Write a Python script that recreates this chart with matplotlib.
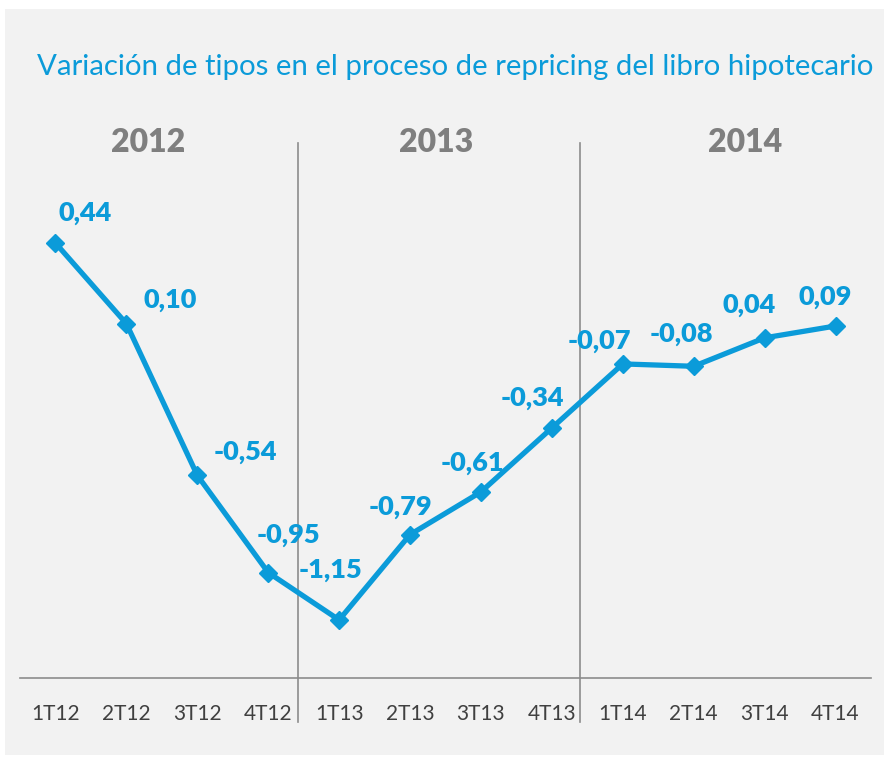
import matplotlib
matplotlib.use("Agg")
import matplotlib.pyplot as plt
from matplotlib.patches import Rectangle

# data
quarters = ["1T12", "2T12", "3T12", "4T12", "1T13", "2T13",
            "3T13", "4T13", "1T14", "2T14", "3T14", "4T14"]
variation = [0.44, 0.10, -0.54, -0.95, -1.15, -0.79,
             -0.61, -0.34, -0.07, -0.08, 0.04, 0.09]
years = ["2012", "2013", "2014"]

# label offsets in pixels (style only)
label_offsets = [(30, 30), (44, 24), (48, 23), (20, 38), (-9, 50), (-10, 28),
                 (-9, 29), (-19, 30), (-23, 23), (-12, 32), (-15, 33), (-10, 29)]
year_pos = [1.3, 5.37, 9.72]
separators = [3.42, 7.40]

BLUE = "#0b9bd9"
GRAY_TXT = "#7f7f7f"
BG = "#f2f2f2"

plt.rcParams['font.family'] = ['Lato', 'DejaVu Sans']

fig = plt.figure(figsize=(8.84, 7.57), dpi=100)
fig.patches.append(Rectangle((5 / 884, 2 / 757), 1, 746 / 757, transform=fig.transFigure,
                             facecolor=BG, edgecolor="none", zorder=-1))

ax = fig.add_axes([20 / 884, 1 - 678 / 757, 851 / 884, (678 - 143) / 757])
ax.set_facecolor("none")
x = list(range(len(quarters)))
ax.plot(x, variation, color=BLUE, lw=3.8, marker="D", ms=9, mec=BLUE, mfc=BLUE,
        zorder=3, clip_on=False)

for xi, v, (dx, dy) in zip(x, variation, label_offsets):
    ax.annotate(f"{v:.2f}".replace(".", ","), (xi, v), xytext=(dx * 0.72, dy * 0.72),
                textcoords="offset points", ha="center", va="center",
                fontsize=19.5, fontweight="heavy", color=BLUE, zorder=4)

for s in separators:
    ax.axvline(s, ymin=-0.082, ymax=1, color="#8c8c8c", lw=1.2, clip_on=False, zorder=1)

for xp, yr in zip(year_pos, years):
    ax.text(xp, 1.0, yr, transform=ax.get_xaxis_transform(), ha="center", va="center",
            fontsize=23, fontweight="heavy", color=GRAY_TXT)

ax.set_xlim(-0.5, 11.5)
ax.set_ylim(-1.395, 0.862)
ax.set_xticks(x)
ax.set_xticklabels(quarters, fontsize=15, color="#404040")
ax.tick_params(axis="x", length=0, pad=19)
ax.set_yticks([])
for side in ["top", "right", "left"]:
    ax.spines[side].set_visible(False)
ax.spines["bottom"].set_color("#8c8c8c")
ax.spines["bottom"].set_linewidth(1.2)

fig.text(37 / 884, 1 - 67 / 757, "Variación de tipos en el proceso de repricing del libro hipotecario",
         ha="left", va="center", fontsize=21.2, color=BLUE)

fig.savefig("out.png", dpi=100)
